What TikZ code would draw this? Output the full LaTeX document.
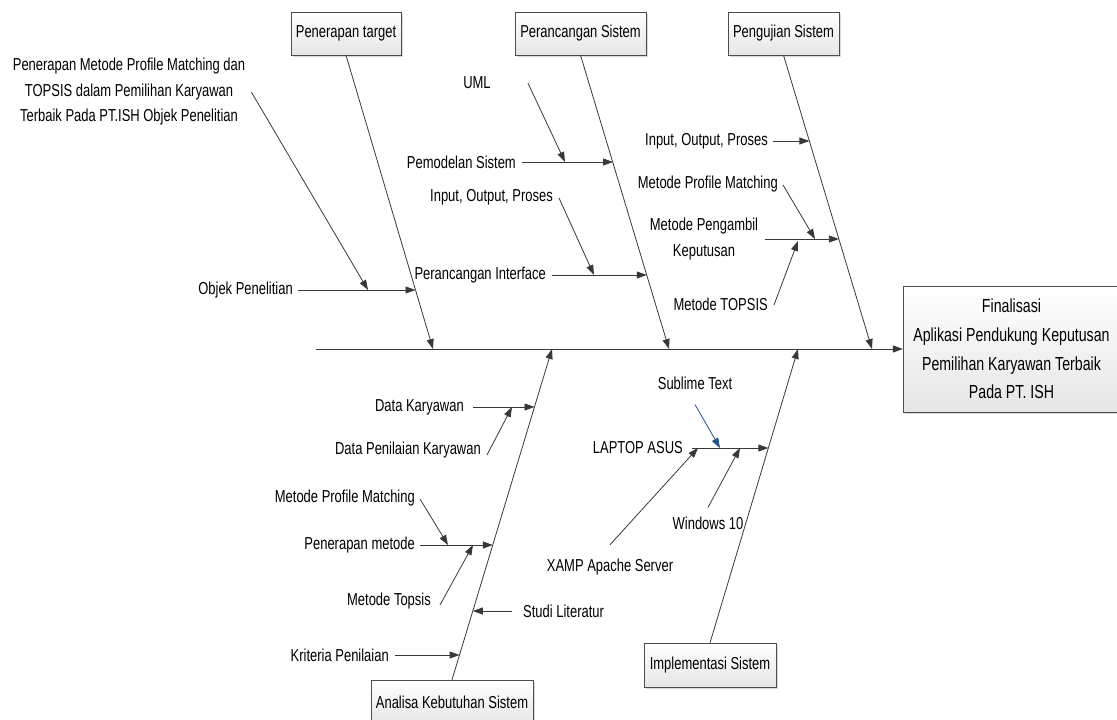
\documentclass[tikz,border=0pt]{standalone}
\usepackage{fontspec}
\setmainfont[FakeStretch=0.75]{Liberation Sans}
\usetikzlibrary{arrows.meta,shadows}
\definecolor{arrblue}{HTML}{24508C}

\begin{document}
\begin{tikzpicture}[x=1pt,y=1pt,
    bone/.style={draw=black!78, line width=0.8pt, -{Triangle[length=10pt,width=7pt]}},
    cause/.style={draw=black!70, top color=white, bottom color=black!10,
        drop shadow={shadow xshift=2pt,shadow yshift=-2pt,opacity=0.3},
        minimum height=43pt, font=\fontsize{17.3}{20}\selectfont},
    lbl/.style={font=\fontsize{17.3}{25.5}\selectfont, align=center}]
    \tikzstyle{every node}+=[inner sep=0pt]
    \useasboundingbox (0,0) rectangle (1117,-720);

    % boxes
    \node [cause, minimum width=110pt] (target) at (346,-33.5) {Penerapan target};
    \node [cause, minimum width=131pt] (ranc) at (580.5,-33.5) {Perancangan Sistem};
    \node [cause, minimum width=111pt] (uji) at (783.5,-33.5) {Pengujian Sistem};
    \node [cause, minimum width=162pt, minimum height=44pt] (anl) at (452,-702) {Analisa Kebutuhan Sistem};
    \node [cause, minimum width=132pt, minimum height=44pt] (impl) at (710,-665) {Implementasi Sistem};
    \node [cause, minimum width=217pt, minimum height=126pt, align=center,
        font=\fontsize{18.9}{28.7}\selectfont] (fin) at (1011.5,-349)
        {Finalisasi\\Aplikasi Pendukung Keputusan\\Pemilihan Karyawan Terbaik\\Pada PT. ISH};

    % spine
    \coordinate (tail) at (316,-349);
    \coordinate (s1) at (433,-349);
    \coordinate (s2) at (669,-349);
    \coordinate (s3) at (872,-349);
    \coordinate (s4) at (552,-349);
    \coordinate (s5) at (798,-349);
    \draw [bone] (tail) -- (fin.west);
    \draw [bone] (target.south) -- (s1);
    \draw [bone] (ranc.south) -- (s2);
    \draw [bone] (uji.south) -- (s3);
    \draw [bone] (anl.north) -- (s4);
    \draw [bone] (impl.north) -- (s5);

    % Penerapan target
    \node [lbl] (pmm) at (129,-92) {Penerapan Metode Profile Matching dan\\TOPSIS dalam Pemilihan Karyawan\\Terbaik Pada PT.ISH Objek Penelitian};
    \node [lbl, anchor=east] (objek) at (293,-290) {Objek Penelitian};
    \coordinate (objek-e) at (415.5,-290);
    \coordinate (pmm-e) at (368,-290);
    \draw [bone] ([xshift=5pt]objek.east) -- (objek-e);
    \draw [bone] ([xshift=6pt]pmm.east) -- (pmm-e);

    % Perancangan Sistem
    \node [lbl] (uml) at (477,-83) {UML};
    \node [lbl, anchor=east] (model) at (516,-162) {Pemodelan Sistem};
    \node [lbl, anchor=east] (iop1) at (553,-197) {Input, Output, Proses};
    \node [lbl, anchor=east] (inter) at (546,-275) {Perancangan Interface};
    \coordinate (model-e) at (613,-162);
    \coordinate (uml-e) at (565,-162);
    \coordinate (inter-e) at (646.8,-275);
    \coordinate (iop1-e) at (594,-275);
    \draw [bone] ([xshift=6pt]model.east) -- (model-e);
    \draw [bone] ([xshift=37pt]uml.east) -- (uml-e);
    \draw [bone] ([xshift=6pt]inter.east) -- (inter-e);
    \draw [bone] ([xshift=6pt,yshift=-1pt]iop1.east) -- (iop1-e);

    % Pengujian Sistem
    \node [lbl, anchor=east] (iop2) at (768,-141) {Input, Output, Proses};
    \node [lbl, anchor=east] (mpm1) at (778,-184) {Metode Profile Matching};
    \node [lbl] (ambil) at (704,-239) {Metode Pengambil\\Keputusan};
    \node [lbl, anchor=east] (topsis1) at (768,-304) {Metode TOPSIS};
    \coordinate (iop2-e) at (809.4,-141);
    \coordinate (ambil-e) at (838.9,-239);
    \coordinate (mpm1-e) at (815,-239);
    \coordinate (topsis1-e) at (798,-241);
    \draw [bone] ([xshift=5pt]iop2.east) -- (iop2-e);
    \draw [bone] (765,-239) -- (ambil-e);
    \draw [bone] ([xshift=5pt,yshift=-1pt]mpm1.east) -- (mpm1-e);
    \draw [bone] ([xshift=6pt,yshift=-1pt]topsis1.east) -- (topsis1-e);

    % Analisa Kebutuhan Sistem
    \node [lbl, anchor=east] (datak) at (464,-407) {Data Karyawan};
    \node [lbl, anchor=east] (datap) at (481,-450) {Data Penilaian Karyawan};
    \node [lbl, anchor=east] (mpm2) at (415,-498) {Metode Profile Matching};
    \node [lbl, anchor=east] (penmet) at (415,-545) {Penerapan metode};
    \node [lbl, anchor=east] (topsis2) at (431,-601) {Metode Topsis};
    \node [lbl, anchor=west] (studi) at (523,-611) {Studi Literatur};
    \node [lbl, anchor=east] (krit) at (389,-655) {Kriteria Penilaian};
    \coordinate (datak-e) at (534.5,-407);
    \coordinate (datap-e) at (512,-407);
    \coordinate (penmet-e) at (492.8,-545);
    \coordinate (mpm2-e) at (448,-545);
    \coordinate (topsis2-e) at (473,-545);
    \coordinate (studi-e) at (472.8,-611);
    \coordinate (krit-e) at (459.6,-655);
    \draw [bone] ([xshift=9pt]datak.east) -- (datak-e);
    \draw [bone] ([xshift=6pt,yshift=-5pt]datap.east) -- (datap-e);
    \draw [bone] ([xshift=5pt]penmet.east) -- (penmet-e);
    \draw [bone] ([xshift=5pt,yshift=-1pt]mpm2.east) -- (mpm2-e);
    \draw [bone] ([xshift=9pt,yshift=-4pt]topsis2.east) -- (topsis2-e);
    \draw [bone] ([xshift=-11pt]studi.west) -- (studi-e);
    \draw [bone] ([xshift=6pt]krit.east) -- (krit-e);

    % Implementasi Sistem
    \node [lbl] (subl) at (695,-383) {Sublime Text};
    \node [lbl, anchor=east] (laptop) at (683,-448) {LAPTOP ASUS};
    \node [lbl] (win) at (708,-523) {Windows 10};
    \node [lbl] (xamp) at (610,-567) {XAMP Apache Server};
    \coordinate (laptop-e) at (768.4,-448);
    \coordinate (subl-e) at (720,-448);
    \coordinate (win-e) at (740,-448);
    \coordinate (xamp-e) at (698,-448);
    \draw [bone] ([xshift=9pt]laptop.east) -- (laptop-e);
    \draw [bone, draw=arrblue] ([yshift=-15pt]subl.south) -- (subl-e);
    \draw [bone] ([yshift=9pt]win.north) -- (win-e);
    \draw [bone] ([yshift=14pt]xamp.north) -- (xamp-e);
\end{tikzpicture}
\end{document}
